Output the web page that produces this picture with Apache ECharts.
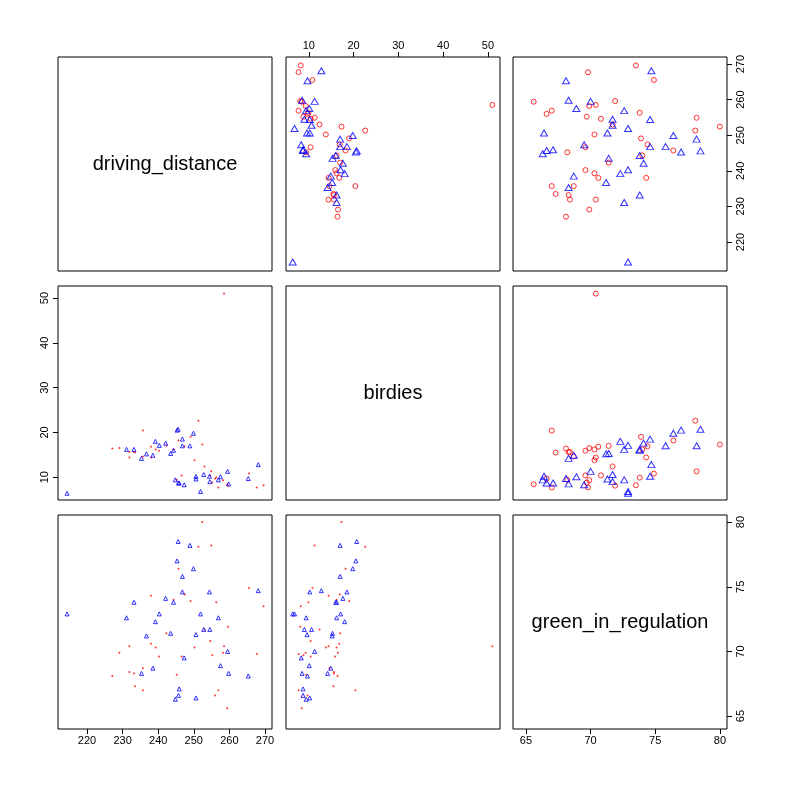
<!DOCTYPE html>
<html>
<head>
<meta charset="utf-8">
<script src="https://cdn.jsdelivr.net/npm/echarts@6/dist/echarts.min.js"></script>
<style>html,body{margin:0;background:#fff}#main{width:787px;height:787px}</style>
</head>
<body>
<div id="main"></div>
<script>
var varNames = ['driving_distance', 'birdies', 'green_in_regulation'];

// red circles
var redGreen = [73.5, 69.8, 74.9, 65.6, 67.0, 66.6, 71.9, 69.9, 70.4, 69.7, 70.8, 73.8, 78.2, 80.0, 78.1, 71.7, 70.3, 73.9, 74.4, 69.6, 76.4, 68.2, 74.0, 71.4, 69.6, 70.3, 70.6, 74.3, 67.0, 68.7, 67.3, 68.3, 68.4, 70.4, 69.9, 68.1];
var redDriving = [269.6, 267.7, 265.5, 259.4, 256.9, 256.0, 259.6, 258.2, 258.5, 255.2, 254.6, 256.3, 254.9, 252.4, 251.3, 253.0, 250.2, 249.1, 247.4, 246.6, 245.7, 245.2, 244.3, 242.3, 240.2, 239.3, 238.0, 238.0, 235.7, 235.7, 233.5, 233.2, 231.9, 231.9, 229.1, 227.1];
var redBirdies = [8.2, 7.7, 10.8, 8.4, 7.7, 9.7, 8.1, 9.3, 51.0, 8.8, 10.4, 9.9, 11.3, 17.3, 22.6, 12.4, 13.8, 19.0, 16.9, 10.4, 18.2, 9.4, 16.2, 17.0, 15.9, 16.2, 16.8, 14.4, 20.4, 14.6, 15.5, 15.6, 15.6, 14.4, 16.5, 16.4];

// blue triangles
var blueGreen = [74.7, 68.1, 68.3, 70.0, 68.9, 72.6, 71.7, 74.6, 71.7, 72.9, 66.4, 71.3, 76.4, 78.2, 69.5, 74.6, 75.8, 66.6, 67.1, 66.3, 77.0, 78.5, 73.8, 71.4, 74.1, 72.9, 72.3, 68.7, 71.2, 68.3, 73.8, 72.6, 72.9];
var blueDriving = [268.1, 265.3, 259.8, 259.5, 257.5, 256.9, 254.5, 254.4, 252.8, 251.9, 250.6, 250.6, 249.9, 248.9, 247.3, 246.8, 246.8, 245.7, 245.9, 244.8, 245.3, 245.6, 244.3, 243.5, 242.1, 240.3, 239.2, 238.5, 236.7, 235.3, 233.2, 231.1, 214.4];
var blueBirdies = [12.8, 9.7, 8.5, 11.3, 10.1, 9.4, 9.0, 10.2, 10.6, 6.8, 10.2, 9.6, 19.8, 17.0, 8.3, 18.5, 17.0, 8.7, 8.7, 9.4, 20.5, 20.7, 16.0, 15.3, 17.6, 17.1, 18.0, 14.9, 15.2, 14.2, 16.2, 16.2, 6.4];

var ticks = [[220, 230, 240, 250, 260, 270], [10, 20, 30, 40, 50], [65, 70, 75, 80]];
var ranges = [[211.85, 271.97], [4.9, 52.7], [64.0, 80.55]];

var redVals = [redDriving, redBirdies, redGreen];
var blueVals = [blueDriving, blueBirdies, blueGreen];

var lefts = [58, 286, 513];
var tops = [57, 286, 515];
var size = 214;

var grids = [], xAxes = [], yAxes = [], series = [], texts = [];
var k = 0;

function axisFor(v, show, pos, isY) {
    return {
        type: 'value', min: ranges[v][0], max: ranges[v][1], position: pos,
        splitLine: { show: false },
        axisLine: { show: false },
        axisTick: { show: show, customValues: ticks[v], length: 5, inside: false, lineStyle: { color: '#000' } },
        axisLabel: {
            show: show, customValues: ticks[v], color: '#000', fontSize: 11,
            fontFamily: 'Liberation Sans, Arial, sans-serif',
            rotate: isY ? 90 : 0, margin: isY ? 8 : 6
        }
    };
}

for (var r = 0; r < 3; r++) {
    for (var c = 0; c < 3; c++) {
        grids.push({
            left: lefts[c], top: tops[r], width: size, height: size,
            show: true, borderColor: '#000', borderWidth: 1, backgroundColor: 'transparent'
        });
        // which outer axes carry labels
        var showX = (r === 0 && c === 1) || (r === 2 && (c === 0 || c === 2));
        var showY = (c === 0 && r === 1) || (c === 2 && (r === 0 || r === 2));
        var xa = axisFor(c, showX, r === 0 ? 'top' : 'bottom', false);
        xa.gridIndex = k;
        var ya = axisFor(r, showY, c === 0 ? 'left' : 'right', true);
        ya.gridIndex = k;
        xAxes.push(xa);
        yAxes.push(ya);

        if (r === c) {
            texts.push({
                type: 'text', x: lefts[c] + size / 2, y: tops[r] + size / 2,
                style: { text: varNames[r], fontSize: 20, fill: '#000', textAlign: 'center', textVerticalAlign: 'middle',
                    fontFamily: 'Liberation Sans, Arial, sans-serif' }
            });
            // keep axes with empty series
            series.push({ type: 'scatter', xAxisIndex: k, yAxisIndex: k, data: [] });
        } else {
            var upper = c > r;
            var redData = redVals[c].map(function (x, i) { return [x, redVals[r][i]]; });
            var blueData = blueVals[c].map(function (x, i) { return [x, blueVals[r][i]]; });
            series.push({
                type: 'scatter', xAxisIndex: k, yAxisIndex: k, data: redData, silent: true,
                symbol: 'circle', symbolSize: upper ? 5 : 2,
                itemStyle: upper ? { color: 'transparent', borderColor: '#f00', borderWidth: 1 } : { color: '#f00' }
            });
            series.push({
                type: 'scatter', xAxisIndex: k, yAxisIndex: k, data: blueData, silent: true,
                symbol: 'triangle', symbolSize: upper ? [7, 6] : [4, 4],
                itemStyle: { color: 'transparent', borderColor: '#00f', borderWidth: 1 }
            });
        }
        k++;
    }
}

var myChart = echarts.init(document.getElementById('main'), null, { renderer: 'canvas' });
var option = {
    backgroundColor: '#fff',
    animation: false,
    grid: grids,
    xAxis: xAxes,
    yAxis: yAxes,
    series: series,
    graphic: texts
};
myChart.setOption(option);
</script>
</body>
</html>
